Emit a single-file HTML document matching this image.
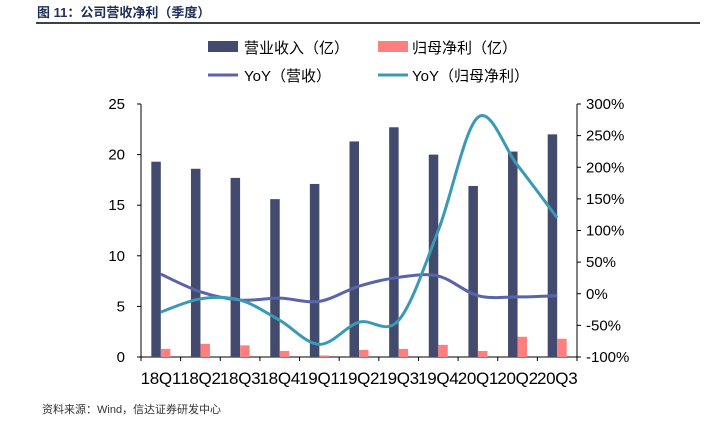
<!DOCTYPE html>
<html><head><meta charset="utf-8"><style>
body{margin:0;background:#fff;}
text{font-family:"Liberation Sans","Noto Sans CJK SC",sans-serif;}
</style></head><body>
<svg id="c" width="722" height="424" xmlns="http://www.w3.org/2000/svg">
<text x="37" y="17" font-size="13" font-weight="bold" fill="#1f2d5a">图 11：公司营收净利（季度）</text>
<line x1="36" y1="23" x2="700" y2="23" stroke="#000" stroke-width="1.5"/>
<g>
<rect x="208" y="41" width="30" height="11" fill="#424b6e"/>
<text x="244" y="53" font-size="15">营业收入（亿）</text>
<rect x="378" y="41" width="30" height="11" fill="#ff7f7f"/>
<text x="412" y="53" font-size="15">归母净利（亿）</text>
<line x1="208" y1="75" x2="238" y2="75" stroke="#5a64a8" stroke-width="3"/>
<text x="244" y="81" font-size="15">YoY（营收）</text>
<line x1="378" y1="75" x2="408" y2="75" stroke="#3a9ab5" stroke-width="3"/>
<text x="412" y="81" font-size="15">YoY（归母净利）</text>
</g>
<g id="plot"></g>
<text x="42" y="413" font-size="11" fill="#333">资料来源：Wind，信达证券研发中心</text>
</svg>
<script>
const categories=["18Q1","18Q2","18Q3","18Q4","19Q1","19Q2","19Q3","19Q4","20Q1","20Q2","20Q3"];
const revenue=[19.3,18.6,17.7,15.6,17.1,21.3,22.7,20.0,16.9,20.3,22.0];
const profit=[0.8,1.3,1.15,0.6,0.15,0.7,0.8,1.2,0.6,2.0,1.8];
const yoyRevenue=[31,3,-10,-7,-12,12,26,28,-3,-5,-3];
const yoyProfit=[-29,-8,-10,-42,-80,-45,-42,100,279,203,120];
const leftTicks=[0,5,10,15,20,25];
const rightTicks=[-100,-50,0,50,100,150,200,250,300];
const NS="http://www.w3.org/2000/svg";
const g=document.getElementById("plot");
const X0=141,X1=577,YT=104,YB=357;
const cw=(X1-X0)/categories.length;
const xc=i=>X0+cw*(i+0.5);
const yl=v=>YB-(v/25)*(YB-YT);
const yr=v=>YB-((v+100)/400)*(YB-YT);
function mk(t,a,name){const e=document.createElementNS(NS,t);for(const k in a)e.setAttribute(k,a[k]);


g.appendChild(e);return e;}
mk("line",{x1:X0,y1:YT,x2:X0,y2:YB,stroke:"#000"},"left-axis");
mk("line",{x1:X1,y1:YT,x2:X1,y2:YB,stroke:"#000"},"right-axis");
mk("line",{x1:X0,y1:YB,x2:X1,y2:YB,stroke:"#000"},"x-axis");
leftTicks.forEach(v=>{mk("line",{x1:X0-4,y1:yl(v),x2:X0,y2:yl(v),stroke:"#000"},"left-tick");
const t=mk("text",{x:125,y:yl(v)+5,"font-size":15,"text-anchor":"end"},"left-tick-label");t.textContent=v;});
rightTicks.forEach(v=>{mk("line",{x1:X1,y1:yr(v),x2:X1+4,y2:yr(v),stroke:"#000"},"right-tick");
const t=mk("text",{x:586,y:yr(v)+5,"font-size":15},"right-tick-label");t.textContent=v+"%";});
for(let i=0;i<=categories.length;i++)mk("line",{x1:X0+cw*i,y1:YB,x2:X0+cw*i,y2:YB+4,stroke:"#000"},"x-tick");
categories.forEach((c,i)=>{
mk("rect",{x:xc(i)-9.5,y:yl(revenue[i]),width:9.5,height:YB-yl(revenue[i]),fill:"#424b6e"},"bar-revenue");
mk("rect",{x:xc(i),y:yl(profit[i]),width:9.5,height:YB-yl(profit[i]),fill:"#ff7f7f"},"bar-profit");
const t=mk("text",{x:xc(i),y:384,"font-size":17,"letter-spacing":"-0.3","text-anchor":"middle"},"x-label");t.textContent=c;});
function smooth(vals){const p=vals.map((v,i)=>[xc(i),yr(v)]);let d="M"+p[0];
for(let i=0;i<p.length-1;i++){const a=p[i-1]||p[i],b=p[i],c=p[i+1],e=p[i+2]||c;
const c1=[b[0]+(c[0]-a[0])/6,b[1]+(c[1]-a[1])/6],c2=[c[0]-(e[0]-b[0])/6,c[1]-(e[1]-b[1])/6];
d+=" C"+c1+" "+c2+" "+c;}return d;}
mk("path",{d:smooth(yoyRevenue),fill:"none",stroke:"#5a64a8","stroke-width":3},"line-yoy-revenue");
mk("path",{d:smooth(yoyProfit),fill:"none",stroke:"#3a9ab5","stroke-width":3},"line-yoy-profit");
</script>
</body></html>
